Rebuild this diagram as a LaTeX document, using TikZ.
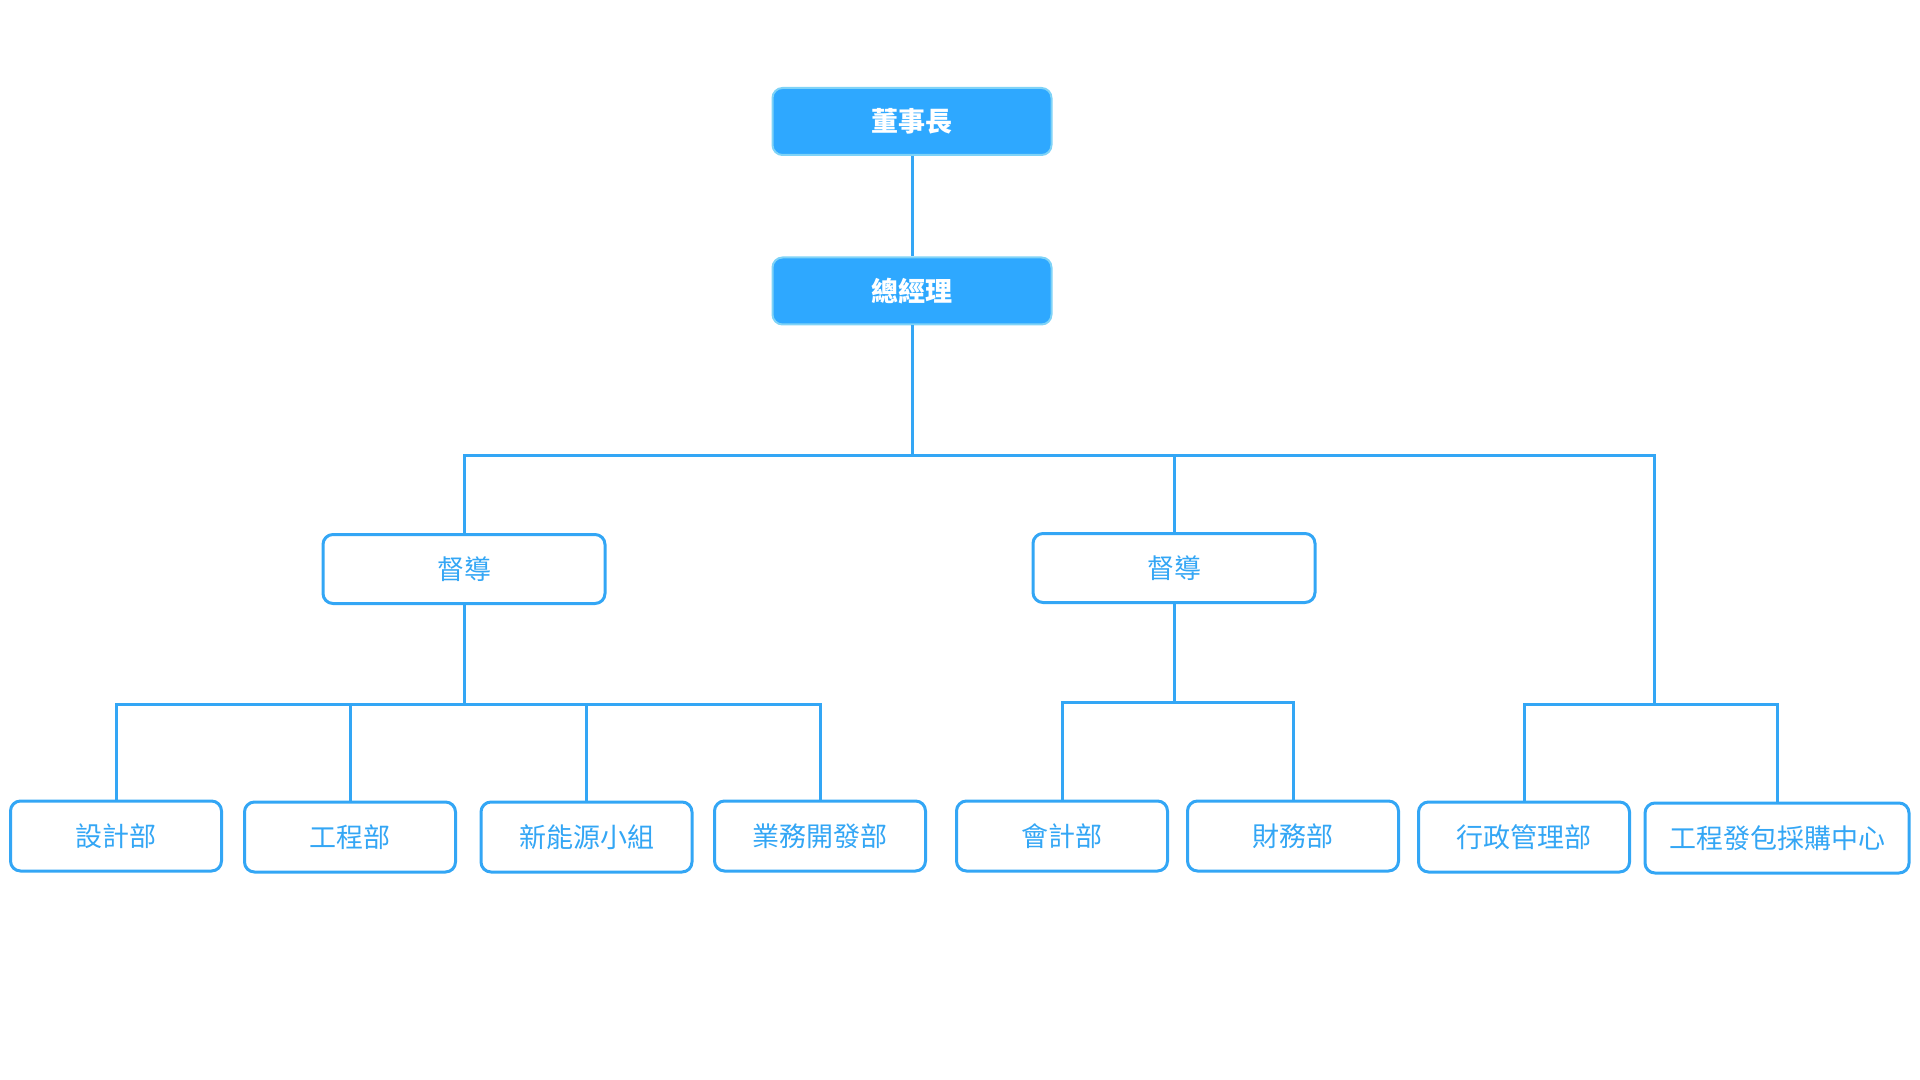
\documentclass[tikz,border=0pt]{standalone}
\usepackage{fontspec}
\setmainfont{Noto Sans CJK TC}
\definecolor{lb}{HTML}{33A6F5}
\definecolor{fillb}{HTML}{2EA8FF}
\definecolor{edgeb}{HTML}{7FD3F7}
\tikzset{
  topbox/.style={rounded corners=5pt, fill=fillb, draw=edgeb, line width=1pt,
    minimum width=139.5pt, minimum height=33.5pt, inner sep=0pt, text=white,
    font=\fontsize{13.5}{16}\selectfont\bfseries},
  supbox/.style={rounded corners=5pt, fill=white, draw=lb, line width=1.5pt,
    minimum width=141pt, minimum height=34.5pt, inner sep=0pt, text=lb,
    font=\fontsize{13.5}{16}\selectfont},
  deptbox/.style={supbox, minimum width=105.5pt, minimum height=35pt},
  conn/.style={draw=lb, line width=1.5pt}
}
\begin{document}
\begin{tikzpicture}[x=0.5pt,y=-0.5pt]
\useasboundingbox (0,0) rectangle (1920,1080);
% top
\node[topbox] (chair) at (912,121.5) {董事長};
\node[topbox] (gm) at (912,291) {總經理};
% supervisors
\node[supbox] (s1) at (464,569) {督導};
\node[supbox] (s2) at (1174,568) {督導};
% departments
\node[deptbox] (d1) at (116,836) {設計部};
\node[deptbox] (d2) at (350,837) {工程部};
\node[deptbox] (d3) at (586.5,837) {新能源小組};
\node[deptbox] (d4) at (820,836) {業務開發部};
\node[deptbox] (d5) at (1062,836) {會計部};
\node[deptbox] (d6) at (1293,836) {財務部};
\node[deptbox] (d7) at (1524,837) {行政管理部};
\node[deptbox, minimum width=132pt] (d8) at (1777,838) {工程發包採購中心};
% junctions
\coordinate (j0) at (912,455.5);
\coordinate (j1) at (464,704);
\coordinate (j2) at (1174,702);
\coordinate (j3) at (1654,704);
% connectors
\draw[conn] (chair.south) -- (gm.north);
\draw[conn] (gm.south) -- (j0);
\draw[conn] (j0) -| (s1.north);
\draw[conn] (j0) -| (s2.north);
\draw[conn] (j0) -| (j3);
\draw[conn] (s1.south) -- (j1);
\draw[conn] (j1) -| (d1.north);
\draw[conn] (j1) -| (d2.north);
\draw[conn] (j1) -| (d3.north);
\draw[conn] (j1) -| (d4.north);
\draw[conn] (s2.south) -- (j2);
\draw[conn] (j2) -| (d5.north);
\draw[conn] (j2) -| (d6.north);
\draw[conn] (j3) -| (d7.north);
\draw[conn] (j3) -| (d8.north);
\end{tikzpicture}
\end{document}
